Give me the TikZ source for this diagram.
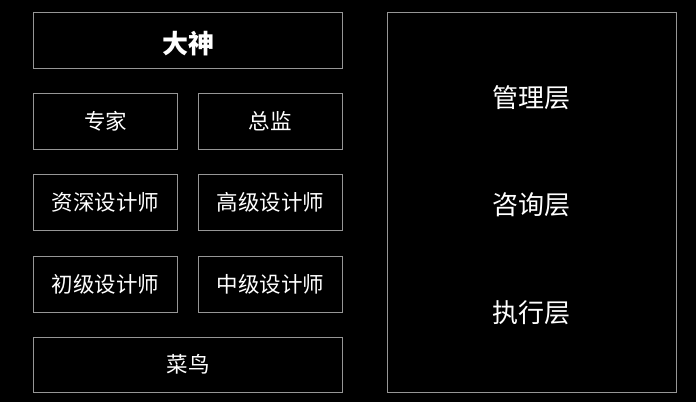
\documentclass[tikz,border=0pt]{standalone}
\usepackage{fontspec}
\setmainfont{Noto Sans CJK SC}
\definecolor{boxline}{RGB}{150,150,150}
\tikzset{
  cell/.style={draw=boxline, line width=1pt, text=white, inner sep=0pt, font=\fontsize{21.5}{21.5}\selectfont},
  bigtext/.style={text=white, inner sep=0pt, font=\fontsize{26}{26}\selectfont\bfseries},
  layer/.style={text=white, inner sep=0pt, font=\fontsize{26}{26}\selectfont}
}
\begin{document}
\begin{tikzpicture}[x=1pt,y=-1pt]
\fill[black] (0,0) rectangle (696,402);
\useasboundingbox (0,0) rectangle (696,402);
\node[cell, minimum width=309pt, minimum height=56pt] (ds) at (188,40.3) {};
\node[bigtext, yshift=-3pt] (dst) at (ds.center) {大神};
\node[cell, minimum width=144.5pt, minimum height=56pt] (zj) at (105.5,121) {专家};
\node[cell, minimum width=144.5pt, minimum height=56pt] (zji) at (270.3,121) {总监};
\node[cell, minimum width=144.5pt, minimum height=56pt] (zs) at (105.5,202) {资深设计师};
\node[cell, minimum width=144.5pt, minimum height=56pt] (gj) at (270.3,202) {高级设计师};
\node[cell, minimum width=144.5pt, minimum height=56pt] (cj) at (105.5,284) {初级设计师};
\node[cell, minimum width=144.5pt, minimum height=56pt] (zjs) at (270.3,284) {中级设计师};
\node[cell, minimum width=309pt, minimum height=55pt] (cn) at (188,364.5) {菜鸟};
\node[draw=boxline, line width=1pt, minimum width=289pt, minimum height=379.7pt, inner sep=0pt] (frame) at (531.8,202.2) {};
\node[layer] (gl) at (531.8,97.5) {管理层};
\node[layer] (zx) at (531.8,205) {咨询层};
\node[layer] (zh) at (531.8,313) {执行层};
\end{tikzpicture}
\end{document}
